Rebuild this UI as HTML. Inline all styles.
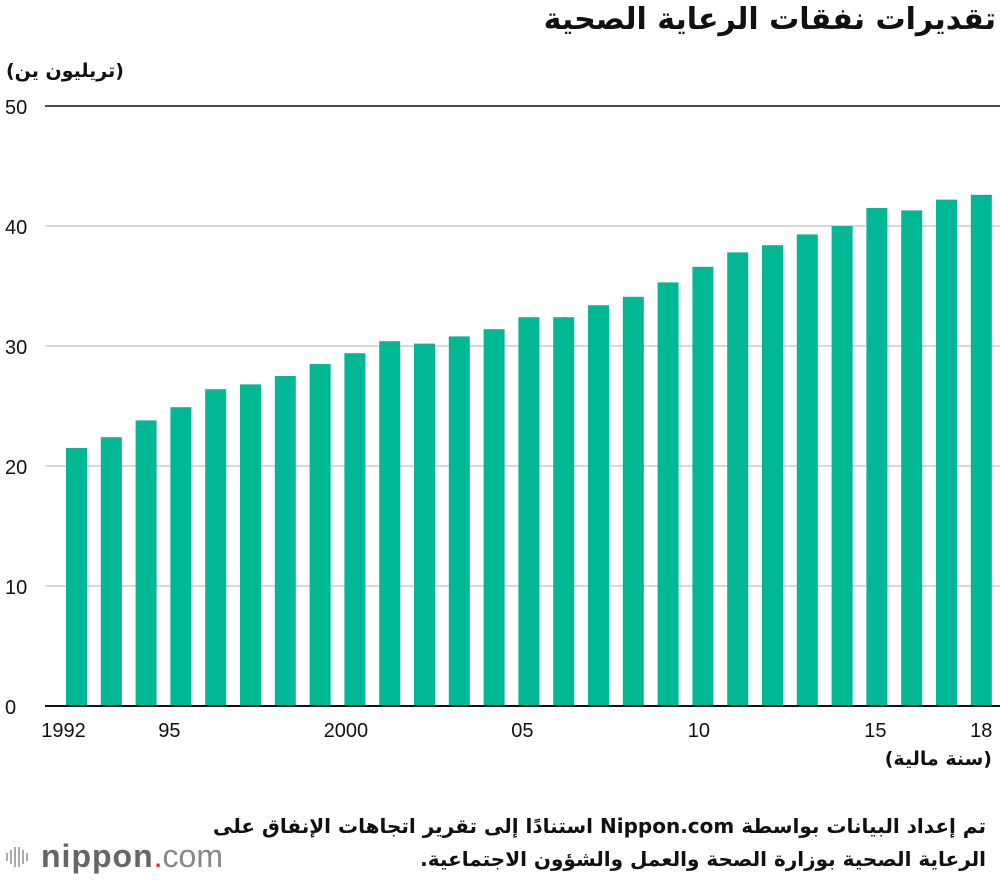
<!DOCTYPE html>
<html><head><meta charset="utf-8"><style>
body{margin:0;width:1000px;height:880px;background:#fff;font-family:"Liberation Sans","DejaVu Sans",sans-serif;overflow:hidden;position:relative}
.t{position:absolute;white-space:nowrap;color:#111}
.ar{font-family:"DejaVu Sans","Liberation Sans",sans-serif}
</style></head><body>
<div class="t ar" style="right:4px;top:2px;font-size:30px;font-weight:bold;direction:rtl">تقديرات نفقات الرعاية الصحية</div>
<div class="t ar" style="left:6px;top:60px;font-size:19px;font-weight:bold;direction:rtl">(تريليون ين)</div>
<svg id="chart" width="1000" height="880" style="position:absolute;left:0;top:0"></svg>
<div class="t ar" style="right:8px;top:748px;font-size:19px;font-weight:bold;direction:rtl">(سنة مالية)</div>
<div class="t ar" style="right:14px;top:810px;font-size:20px;font-weight:bold;direction:rtl;text-align:right;line-height:33px">تم إعداد البيانات بواسطة Nippon.com استنادًا إلى تقرير اتجاهات الإنفاق على<br>الرعاية الصحية بوزارة الصحة والعمل والشؤون الاجتماعية.</div>
<div style="position:absolute;left:5px;top:838px;display:flex;align-items:center">
<svg width="26" height="30"><g fill="#aaa"><rect x="1" y="11" width="2" height="8"/><rect x="5" y="8" width="2" height="14"/><rect x="9" y="5" width="2" height="20"/><rect x="13" y="5" width="2" height="20"/><rect x="17" y="8" width="2" height="14"/><rect x="21" y="11" width="2" height="8"/></g></svg>
<span style="font-size:32px;color:#666;font-weight:bold;margin-left:10px;letter-spacing:1px">nippon</span><span style="font-size:32px;color:#e8202a">.</span><span style="font-size:32px;color:#888">com</span></div>
<script>
const years=[1992,1993,1994,1995,1996,1997,1998,1999,2000,2001,2002,2003,2004,2005,2006,2007,2008,2009,2010,2011,2012,2013,2014,2015,2016,2017,2018];
const values=[21.5,22.4,23.8,24.9,26.4,26.8,27.5,28.5,29.4,30.4,30.2,30.8,31.4,32.4,32.4,33.4,34.1,35.3,36.6,37.8,38.4,39.3,40.0,41.5,41.3,42.2,42.6];
const yTicks=[0,10,20,30,40,50];
const xLabels={1992:"1992",1995:"95",2000:"2000",2005:"05",2010:"10",2015:"15",2018:"18"};
const svg=document.getElementById('chart');const NS='http://www.w3.org/2000/svg';
const y=v=>706-v*12;const x=i=>66+i*34.8;const bw=21;
function mk(t,a){const e=document.createElementNS(NS,t);for(const k in a)e.setAttribute(k,a[k]);svg.appendChild(e);return e;}
yTicks.forEach(v=>{
 const l=mk('line',{x1:45,x2:1000,y1:y(v),y2:y(v),stroke:v===50||v===0?'#111':'#ccc','stroke-width':v===0?2:1.5});
 
 
 const t=mk('text',{x:5,y:y(v)+8,'font-size':20,fill:'#111','font-family':'Liberation Sans'});t.textContent=v;
 
 
});
years.forEach((yr,i)=>{
 const r=mk('rect',{x:x(i),y:y(values[i]),width:bw,height:706-y(values[i]),fill:'#00b893'});
 
 
 if(xLabels[yr]){const t=mk('text',{x:x(i)+bw/2-(2018-yr)*0.5,y:737,'font-size':20,fill:'#111','text-anchor':'middle','font-family':'Liberation Sans'});t.textContent=xLabels[yr];
 
 }
});
const base=mk('line',{x1:45,x2:1000,y1:706,y2:706,stroke:'#111','stroke-width':2});


</script>
</body></html>
